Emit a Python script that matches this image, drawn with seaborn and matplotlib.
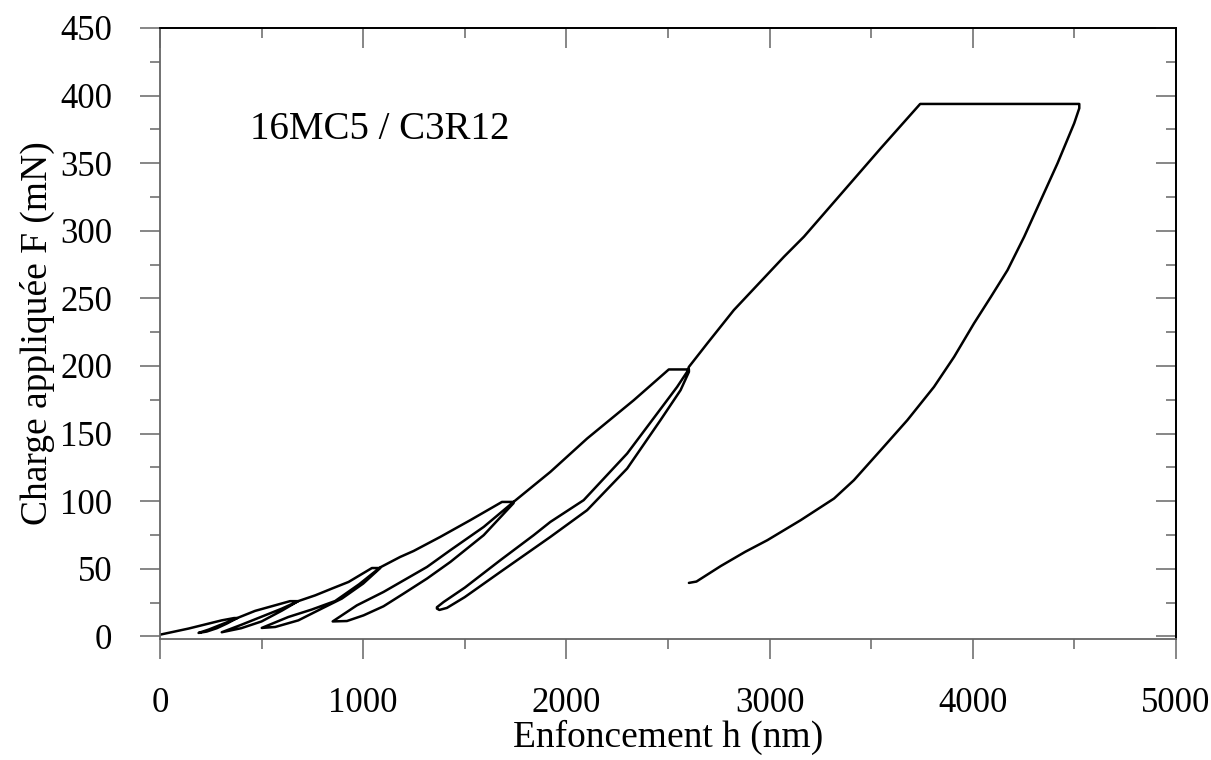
import numpy as np
import pandas as pd
import matplotlib
matplotlib.use("Agg")
import matplotlib.pyplot as plt
from matplotlib.ticker import MultipleLocator
import seaborn as sns

# Indentation path, read from the picture, in the order it was recorded
# (load / hold / unload / reload for each cycle)
h_load1 = [0, 140, 304, 365, 380]
F_load1 = [1.2, 5.7, 11.8, 13.5, 13.5]
h_unload1 = [380, 330, 280, 230, 190]
F_unload1 = [13.5, 9.5, 6.0, 3.5, 2.5]
h_reload1 = [190, 240, 290, 340, 380, 468, 550, 640, 680]
F_reload1 = [2.5, 5.0, 8.0, 11.0, 13.5, 18.8, 22.2, 26.0, 26.0]

h_unload2 = [680, 600, 500, 400, 304]
F_unload2 = [26.0, 19.0, 11.0, 6.0, 3.0]
h_reload2 = [304, 400, 500, 600, 680, 764, 846, 928, 1043, 1084]
F_reload2 = [3.0, 8.5, 14.5, 20.5, 26.0, 30.3, 35.3, 40.2, 50.5, 50.5]

h_unload3 = [1084, 1000, 895, 796, 681, 567, 501]
F_unload3 = [50.5, 39.0, 27.9, 20.5, 11.8, 6.9, 6.2]
h_reload3 = [501, 632, 747, 862, 980, 1084, 1182, 1248, 1379, 1527, 1683, 1740]
F_reload3 = [6.2, 14.3, 19.8, 26.1, 38.5, 51.0, 58.7, 63.1, 73.5, 85.9, 99.4, 99.4]

h_unload4 = [1740, 1593, 1429, 1314, 1199, 1100, 1002, 920, 850]
F_unload4 = [98.5, 74.8, 55.0, 42.7, 31.6, 22.2, 15.5, 11.3, 11.0]
h_reload4 = [850, 969, 1100, 1199, 1314, 1429, 1593, 1740, 1921, 2102, 2332, 2504, 2603]
F_reload4 = [11.0, 22.9, 32.8, 41.4, 51.3, 63.7, 80.9, 99.4, 121.6, 146.3, 174.7, 197.4, 197.4]

h_unload5 = [2603, 2562, 2463, 2299, 2102, 1921, 1839, 1675, 1500, 1412, 1375, 1363]
F_unload5 = [195.6, 182.1, 159.9, 124.1, 93.3, 73.5, 64.9, 47.6, 29.0, 21.0, 19.5, 20.5]
h_reload5 = [1363, 1396, 1500, 1675, 1839, 1921, 2085, 2299, 2447, 2545, 2594, 2603,
             2693, 2824, 3071, 3169, 3383, 3547, 3741, 4524]
F_reload5 = [21.5, 25.4, 36.0, 56.3, 74.8, 84.6, 100.7, 135.2, 164.8, 184.5, 195.6, 199.3,
             216.6, 241.3, 280.8, 295.6, 332.6, 361.0, 393.8, 393.8]

h_unload6 = [4524, 4499, 4417, 4335, 4253, 4171, 4089, 4006, 3908, 3809, 3678, 3547,
             3415, 3317, 3153, 2989, 2880, 2760, 2676, 2640, 2603]
F_unload6 = [390.6, 379.5, 349.9, 322.7, 295.6, 270.9, 251.1, 231.5, 206.7, 184.5, 159.9, 137.7,
             115.5, 101.9, 85.9, 71.1, 62.5, 52.0, 44.0, 40.5, 39.5]

segments = [
    (h_load1, F_load1), (h_unload1, F_unload1), (h_reload1, F_reload1),
    (h_unload2, F_unload2), (h_reload2, F_reload2),
    (h_unload3, F_unload3), (h_reload3, F_reload3),
    (h_unload4, F_unload4), (h_reload4, F_reload4),
    (h_unload5, F_unload5), (h_reload5, F_reload5),
    (h_unload6, F_unload6),
]
df = pd.DataFrame({
    "h": np.concatenate([s[0] for s in segments]),
    "F": np.concatenate([s[1] for s in segments]),
})

sns.set_theme(style="ticks")
plt.rcParams["font.family"] = ["Liberation Serif", "DejaVu Serif"]
plt.rcParams["text.color"] = "black"
plt.rcParams["axes.labelcolor"] = "black"

fig = plt.figure(figsize=(12.11, 7.6), dpi=100)
ax = fig.add_axes([0.1321, 0.1592, 0.9711 - 0.1321, 0.9632 - 0.1592])

sns.lineplot(data=df, x="h", y="F", sort=False, estimator=None, color="black",
             linewidth=1.8, ax=ax)

ax.set_xlim(0, 5000)
ax.set_ylim(-2, 450)
ax.xaxis.set_major_locator(MultipleLocator(1000))
ax.xaxis.set_minor_locator(MultipleLocator(500))
ax.yaxis.set_major_locator(MultipleLocator(50))
ax.yaxis.set_minor_locator(MultipleLocator(25))

grey = "#666666"
ax.tick_params(which="major", direction="out", length=14.4, width=1.1, color=grey,
               labelcolor="black", labelsize=25, pad=20, top=False, right=False)
ax.tick_params(which="minor", direction="out", length=7.2, width=1.1, color=grey,
               top=False, right=False)
ax.tick_params(axis="y", which="major", pad=20)

for side in ["left", "bottom"]:
    ax.spines[side].set_color(grey)
    ax.spines[side].set_linewidth(1.3)
for side in ["top", "right"]:
    ax.spines[side].set_color("black")
    ax.spines[side].set_linewidth(1.3)

# inward ticks on top and right
top = ax.secondary_xaxis("top")
top.xaxis.set_major_locator(MultipleLocator(1000))
top.xaxis.set_minor_locator(MultipleLocator(500))
top.tick_params(which="major", direction="in", length=14.4, width=1.1, color=grey, labeltop=False)
top.tick_params(which="minor", direction="in", length=7.2, width=1.1, color=grey)
top.spines["top"].set_color("black")
top.spines["top"].set_linewidth(1.3)

right = ax.secondary_yaxis("right")
right.yaxis.set_major_locator(MultipleLocator(50))
right.yaxis.set_minor_locator(MultipleLocator(25))
right.tick_params(which="major", direction="in", length=14.4, width=1.1, color=grey, labelright=False)
right.tick_params(which="minor", direction="in", length=7.2, width=1.1, color=grey)
right.spines["right"].set_color("black")
right.spines["right"].set_linewidth(1.3)

ax.set_xlabel("Enfoncement h (nm)", fontsize=27, labelpad=0)
ax.set_ylabel("Charge appliquée F (mN)", fontsize=27, labelpad=4)

ax.text(443, 375, "16MC5 / C3R12", fontsize=28, ha="left", va="center")

fig.savefig("out.png", dpi=100)
